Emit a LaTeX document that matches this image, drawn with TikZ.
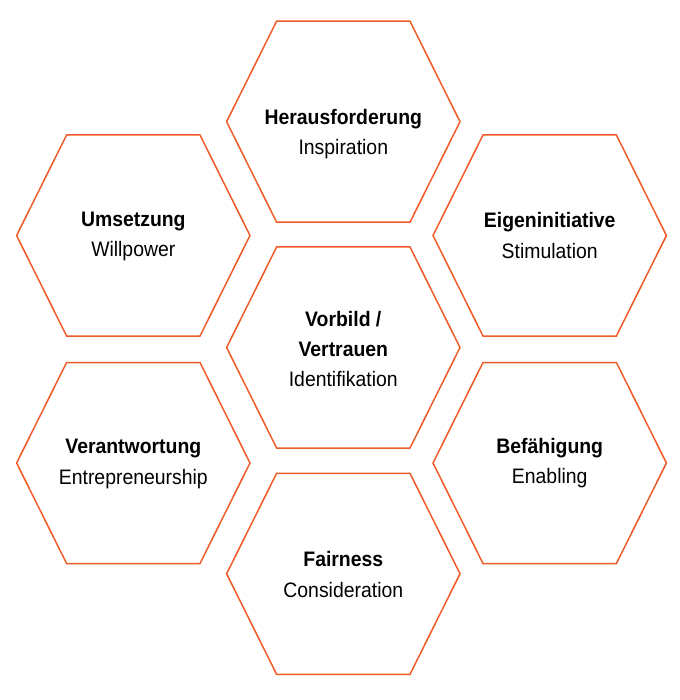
\documentclass[tikz,border=0pt]{standalone}
\usepackage{fontspec}
\usepackage{tikz}
\setmainfont{Liberation Sans}
\definecolor{hexorange}{RGB}{240,90,40}

\tikzset{
  hexline/.style = {draw=hexorange, line width=1.5pt, line join=miter},
  celltext/.style = {align=center, inner sep=0pt, yscale=1.08, transform shape,
    font=\fontsize{19.4}{28}\selectfont}
}

\begin{document}
\begin{tikzpicture}[x=1pt, y=-1pt]
            \useasboundingbox (0,0) rectangle (679,700);
            % outlines of the seven cells
            \foreach \cx/\cy in {343.3/121.7, 343.3/347.5, 343.3/573.8,
                                 133.3/235.5, 133.3/463, 549.7/235.5, 549.7/463}
              \draw[hexline, shift={(\cx,\cy)}]
                (-116.7,0) -- (-66.7,-100.5) -- (66.7,-100.5) -- (116.7,0)
                -- (66.7,100.5) -- (-66.7,100.5) -- cycle;

            \node[celltext] (challenge) at (343.3,134) {\textbf{Herausforderung}\\Inspiration};
            \node[celltext] (rolemodel) at (343.3,349) {\textbf{Vorbild /}\\\textbf{Vertrauen}\\Identifikation};
            \node[celltext] (fairness) at (343.3,574.5) {\textbf{Fairness}\\Consideration};

            \node[celltext] (execution) at (133.3,236.5) {\textbf{Umsetzung}\\Willpower};
            \node[celltext] (responsibility) at (133.3,464) {\textbf{Verantwortung}\\Entrepreneurship};

            \node[celltext] (initiative) at (549.7,235.5) {\textbf{Eigeninitiative}\\Stimulation};
            \node[celltext] (enabling) at (549.7,463) {\textbf{Befähigung}\\Enabling};
\end{tikzpicture}
\end{document}
